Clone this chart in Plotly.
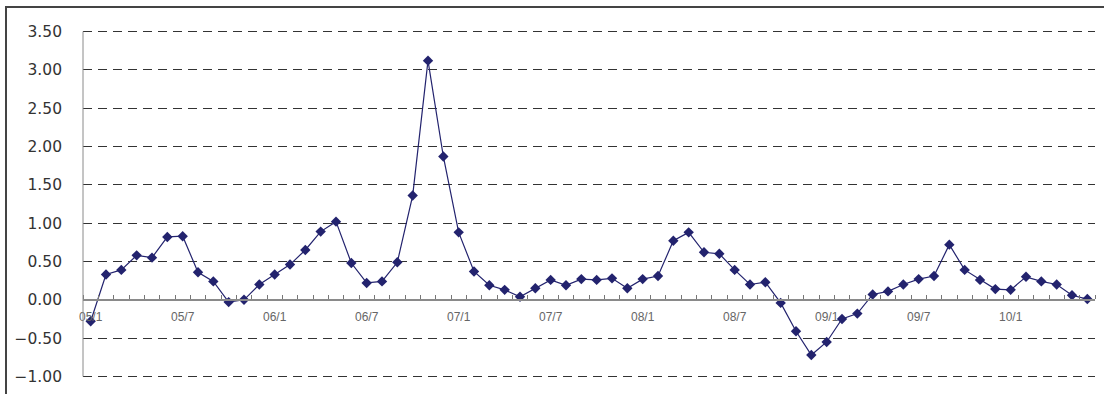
import plotly.graph_objects as go

# Monthly values, 2005/01 through 2010/06
periods = [f"{yy:02d}/{m}" for yy in range(5, 11) for m in range(1, 13)][:66]
values = [
    -0.28, 0.33, 0.39, 0.58, 0.55, 0.82, 0.83, 0.36, 0.24, -0.03, 0.00, 0.20,
    0.33, 0.46, 0.65, 0.89, 1.02, 0.48, 0.22, 0.24, 0.49, 1.36, 3.12, 1.87,
    0.88, 0.37, 0.19, 0.13, 0.04, 0.15, 0.26, 0.19, 0.27, 0.26, 0.28, 0.15,
    0.27, 0.31, 0.77, 0.88, 0.62, 0.60, 0.39, 0.20, 0.23, -0.04, -0.41, -0.72,
    -0.55, -0.25, -0.18, 0.07, 0.11, 0.20, 0.27, 0.31, 0.72, 0.39, 0.26, 0.14,
    0.13, 0.30, 0.24, 0.20, 0.06, 0.01,
]
tick_labels = ["05/1", "05/7", "06/1", "06/7", "07/1", "07/7",
               "08/1", "08/7", "09/1", "09/7", "10/1"]

x_idx = list(range(len(values)))
tick_pos = [periods.index(t) for t in tick_labels]
boundaries = [i - 0.5 for i in range(len(values) + 1)]

navy = "#23236e"
# small padding so the end gridlines (3.50 / -1.00) are still drawn
y_min, y_max = -1.02, 3.52

fig = go.Figure(
    go.Scatter(
        x=x_idx,
        y=values,
        text=periods,
        mode="lines+markers",
        line=dict(color=navy, width=1.2),
        marker=dict(symbol="diamond", size=8, color=navy),
        hovertemplate="%{text}: %{y:.2f}<extra></extra>",
        showlegend=False,
    )
)

fig.update_layout(
    width=1104,
    height=394,
    margin=dict(l=83, r=9, t=30, b=16),
    paper_bgcolor="white",
    plot_bgcolor="white",
    xaxis=dict(
        range=[-0.5, len(values) - 0.5],
        anchor="free",
        position=(0 - y_min) / (y_max - y_min),
        showline=True,
        linecolor="#8a8a8a",
        linewidth=2,
        showgrid=False,
        zeroline=False,
        tickmode="array",
        tickvals=tick_pos,
        ticktext=tick_labels,
        ticks="",
        ticklabelstandoff=6,
        tickfont=dict(family="Liberation Sans", size=12, color="#666666"),
        minor=dict(
            tickmode="array",
            tickvals=boundaries,
            ticks="inside",
            ticklen=4,
            tickwidth=1,
            tickcolor="#777777",
            showgrid=False,
        ),
    ),
    yaxis=dict(
        range=[y_min, y_max],
        tick0=0,
        dtick=0.5,
        tickformat=".2f",
        showgrid=True,
        gridcolor="#333333",
        gridwidth=1,
        griddash="9px,6px",
        zeroline=False,
        showline=False,
        ticks="",
        ticklabelstandoff=20,
        tickfont=dict(family="DejaVu Sans", size=15.5, color="#333333"),
    ),
    shapes=[
        # vertical value axis from -1.00 to 3.50
        dict(
            type="line",
            xref="paper",
            yref="y",
            x0=0,
            x1=0,
            y0=-1.0,
            y1=3.5,
            line=dict(color="#8a8a8a", width=1),
            layer="above",
        ),
        # outer frame around the chart
        dict(
            type="rect",
            xref="paper",
            yref="paper",
            x0=(6 - 83) / 1012,
            x1=1.03,
            y0=-0.1,
            y1=(378 - 7) / 348,
            line=dict(color="#444444", width=2),
            fillcolor="rgba(0,0,0,0)",
            layer="above",
        ),
    ],
)

fig.write_html("out.html")
